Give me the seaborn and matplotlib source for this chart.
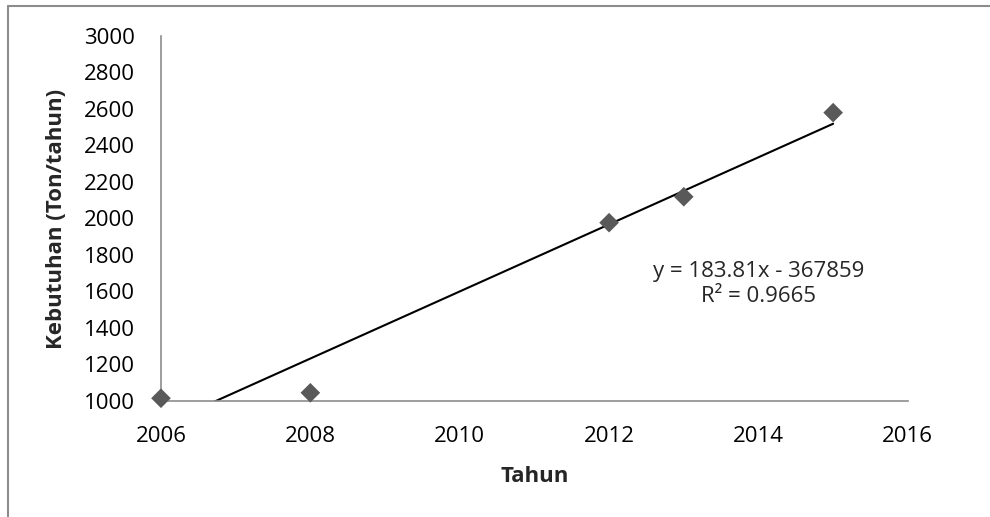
import numpy as np
import pandas as pd
import matplotlib
matplotlib.use('Agg')
import matplotlib.pyplot as plt
from matplotlib.lines import Line2D
import seaborn as sns

tahun = [2006, 2008, 2012, 2013, 2015]
kebutuhan = [1015, 1045, 1977, 2119, 2580]
persamaan = 'y = 183.81x - 367859\nR² = 0.9665'
x_ticks = [2006, 2008, 2010, 2012, 2014, 2016]
y_ticks = [1000, 1200, 1400, 1600, 1800, 2000, 2200, 2400, 2600, 2800, 3000]


def main():
    df = pd.DataFrame({'Tahun': tahun, 'Kebutuhan': kebutuhan})

    sns.set_style('white')
    plt.rcParams['font.family'] = ['Open Sans', 'DejaVu Sans']

    fig = plt.figure(figsize=(9.9, 5.17), dpi=100)
    ax = fig.add_axes([0.1626, 0.2244, 0.7544, 0.706])

    # garis tren linear, dipotong oleh batas sumbu
    m, b = np.polyfit(df['Tahun'], df['Kebutuhan'], 1)
    xs = np.array([min(tahun), max(tahun)])
    ax.plot(xs, m * xs + b, color='black', lw=1.5, zorder=2)

    sns.scatterplot(data=df, x='Tahun', y='Kebutuhan', marker='D', s=100,
                    color='#595959', edgecolor='none', ax=ax, zorder=3,
                    clip_on=False)

    ax.set_xlim(2006, 2016)
    ax.set_ylim(1000, 3000)
    ax.set_xticks(x_ticks)
    ax.set_yticks(y_ticks)
    ax.tick_params(axis='both', length=0, labelsize=16, labelcolor='black')
    ax.tick_params(axis='y', pad=19)
    ax.tick_params(axis='x', pad=18)

    for s in ['top', 'right']:
        ax.spines[s].set_visible(False)
    for s in ['left', 'bottom']:
        ax.spines[s].set_color('#8c8c8c')
        ax.spines[s].set_linewidth(1.2)

    ax.set_xlabel('Tahun', fontsize=16, fontweight='bold', labelpad=14)
    ax.set_ylabel('Kebutuhan (Ton/tahun)', fontsize=16, fontweight='bold', labelpad=12)

    ax.text(2014.0, 1640, persamaan, ha='center', va='center', fontsize=16,
            linespacing=1.25)

    # bingkai luar ala Excel
    fig.add_artist(Line2D([8 / 990, 1], [1 - 6 / 517, 1 - 6 / 517],
                          color='#8c8c8c', lw=1.5, transform=fig.transFigure))
    fig.add_artist(Line2D([8 / 990, 8 / 990], [0, 1 - 6 / 517],
                          color='#8c8c8c', lw=1.5, transform=fig.transFigure))

    fig.savefig('out.png', dpi=100)


if __name__ == "__main__":
    main()
